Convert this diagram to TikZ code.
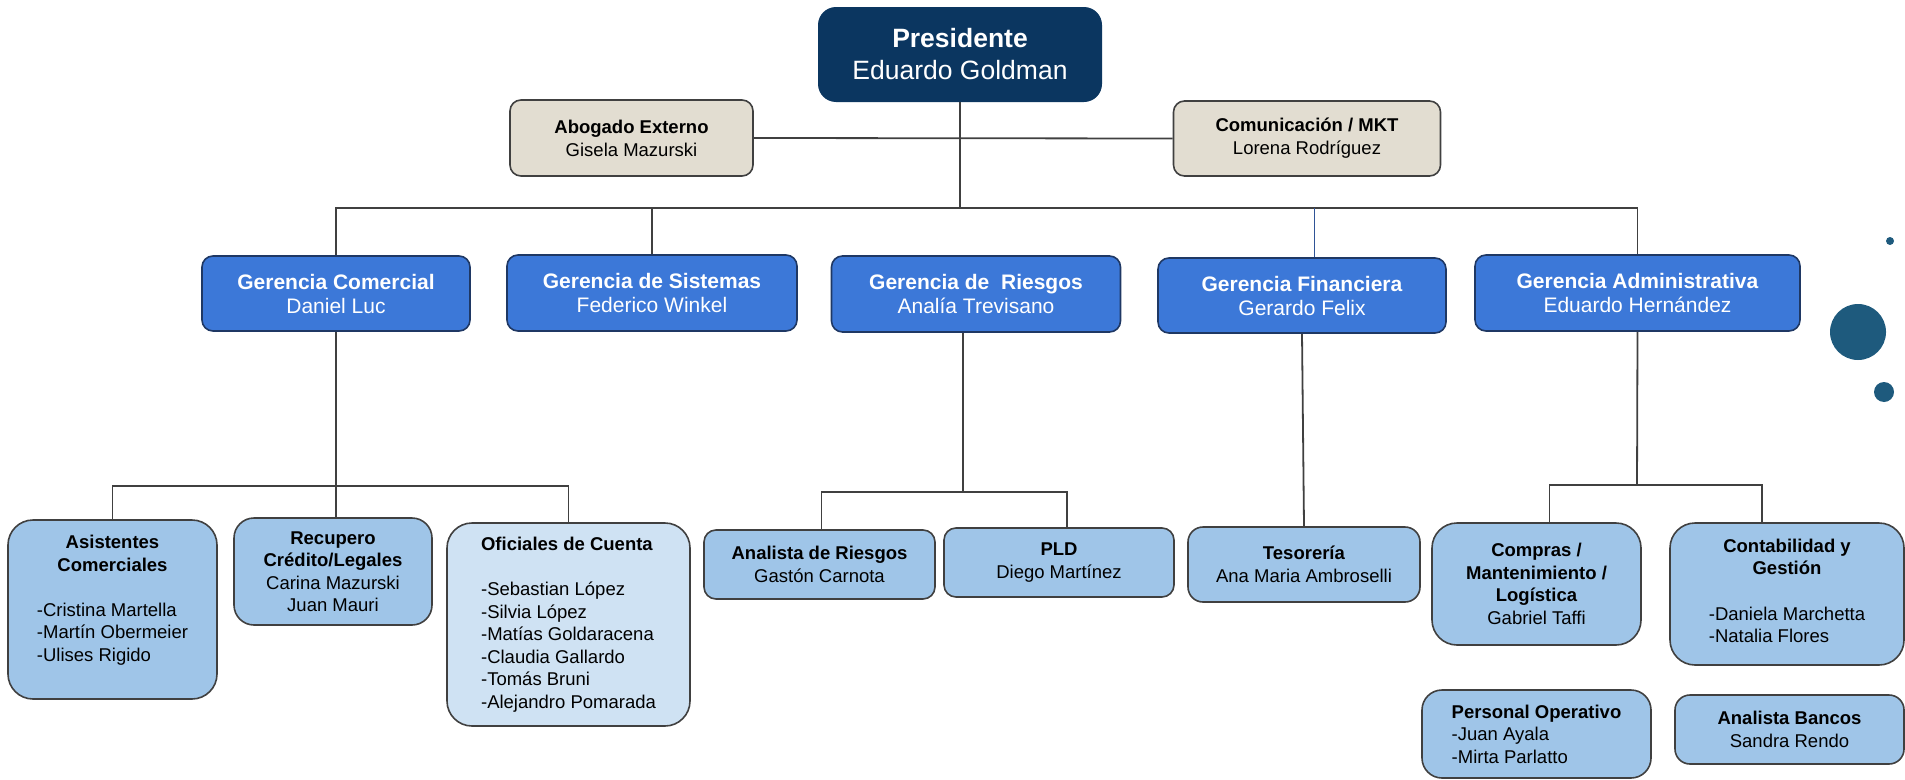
\documentclass[tikz,border=0pt]{standalone}
\usepackage{fontspec}
\setmainfont{Liberation Sans}
\usepackage{tikz}

\definecolor{presblue}{RGB}{11,54,96}
\definecolor{gerblue}{RGB}{60,120,216}
\definecolor{gerline}{RGB}{31,56,100}
\definecolor{lightblue}{RGB}{159,197,232}
\definecolor{paleblue}{RGB}{207,226,243}
\definecolor{beige}{RGB}{226,221,209}
\definecolor{boxline}{RGB}{64,64,64}
\definecolor{linkgray}{RGB}{64,64,64}
\definecolor{linkblue}{RGB}{47,84,150}
\definecolor{dotblue}{RGB}{30,90,125}

\tikzset{
    pres/.style={fill=presblue, text=white, rounded corners=18, align=center, inner sep=0pt,
        font=\fontsize{26.5}{32}\selectfont},
    aux/.style={draw=boxline, line width=1.6pt, fill=beige, rounded corners=11, align=center,
        inner sep=0pt, font=\fontsize{18.5}{23}\selectfont},
    ger/.style={draw=gerline, line width=1.6pt, fill=gerblue, text=white, rounded corners=11,
        align=center, inner sep=0pt, font=\fontsize{21}{24}\selectfont},
    sub/.style={draw=boxline, line width=1.6pt, fill=lightblue, rounded corners=#1,
        align=center, inner sep=0pt, font=\fontsize{18.5}{22.5}\selectfont},
    sub/.default=14,
    link/.style={draw=linkgray, line width=1.8pt},
    dot/.style={circle, fill=dotblue, inner sep=0pt, minimum size=#1}
}

\begin{document}
\begin{tikzpicture}[x=1pt, y=-1pt]
    \useasboundingbox (0,0) rectangle (1905,779);

    \node[pres, minimum width=284, minimum height=95] (pres) at (960,54.5)
        {{\bfseries Presidente}\\Eduardo Goldman};

    \node[aux, minimum width=243, minimum height=76] (abo) at (631.5,138)
        {\textbf{Abogado Externo}\\Gisela Mazurski};
    \node[aux, minimum width=267, minimum height=75] (mkt) at (1307,138.5)
        {\textbf{Comunicación / MKT}\\Lorena Rodríguez};

    \node[ger, minimum width=268, minimum height=75] (gcom) at (336,293.5)
        {\textbf{Gerencia Comercial}\\Daniel Luc};
    \node[ger, minimum width=290, minimum height=76] (gsis) at (652,293)
        {\textbf{Gerencia de Sistemas}\\Federico Winkel};
    \node[ger, minimum width=289, minimum height=76] (grie) at (976,294)
        {\textbf{Gerencia de~ Riesgos}\\Analía Trevisano};
    \node[ger, minimum width=288, minimum height=75] (gfin) at (1302,295.5)
        {\textbf{Gerencia Financiera}\\Gerardo Felix};
    \node[ger, minimum width=325, minimum height=76] (gadm) at (1637.5,293)
        {\textbf{Gerencia Administrativa}\\Eduardo Hernández};

    \node[sub=25, minimum width=209, minimum height=179] (asis) at (112.5,609.5)
        {\textbf{Asistentes}\\\textbf{Comerciales}\\[22.5pt]
        \begin{tabular}[t]{@{}l@{}}-Cristina Martella\\-Martín Obermeier\\-Ulises Rigido\\[16pt]\end{tabular}};
    \node[sub=20, minimum width=198, minimum height=107] (recu) at (333,571.5)
        {\textbf{Recupero}\\\textbf{Crédito/Legales}\\Carina Mazurski\\Juan Mauri};
    \node[sub=25, fill=paleblue, align=left, minimum width=243, minimum height=203] (ofic) at (568.5,624.5)
        {\textbf{Oficiales de Cuenta}\\[22.5pt]-Sebastian López\\-Silvia López\\-Matías Goldaracena\\
        -Claudia Gallardo\\-Tomás Bruni\\-Alejandro Pomarada};

    \node[sub=12, minimum width=231, minimum height=69] (anar) at (819.5,564.5)
        {\textbf{Analista de Riesgos}\\Gastón Carnota};
    \node[sub=12, minimum width=230, minimum height=69] (pld) at (1059,562.5)
        {\textbf{PLD}\\Diego Martínez};

    \node[sub=15, minimum width=232, minimum height=75] (teso) at (1304,564.5)
        {\textbf{Tesorería}\\Ana Maria Ambroselli};

    \node[sub=25, minimum width=209, minimum height=122] (comp) at (1536.5,584)
        {\textbf{Compras /}\\\textbf{Mantenimiento /}\\\textbf{Logística}\\Gabriel Taffi};
    \node[sub=25, minimum width=234, minimum height=142] (cont) at (1787,594)
        {\textbf{Contabilidad y}\\\textbf{Gestión}\\[23pt]
        \begin{tabular}[t]{@{}l@{}}-Daniela Marchetta\\-Natalia Flores\end{tabular}};
    \node[sub=20, align=left, minimum width=229, minimum height=88] (pers) at (1536.5,734)
        {\textbf{Personal Operativo}\\-Juan Ayala\\-Mirta Parlatto};
    \node[sub=15, minimum width=229, minimum height=69] (banc) at (1789.5,729.5)
        {\textbf{Analista Bancos}\\Sandra Rendo};

    \coordinate (busG) at (960,208);
    \coordinate (busC) at (336,486);
    \coordinate (busR) at (963,492);
    \coordinate (busA) at (1637,485);

    \draw[link] (pres.south) -- (busG);
    \draw[link] (abo.east) -- (mkt.west);
    \draw[link] (gcom.north) |- (busG) -| (gadm.north);
    \draw[link] (gsis.north) -- (gsis.north |- busG);
    \draw[draw=linkblue, line width=1pt] ([xshift=12]gfin.north) -- ([xshift=12]gfin.north |- busG);

    \draw[link] (gcom.south) -- (gcom.south |- recu.north);
    \draw[link] (asis.north) |- (busC) -| (ofic.north);

    \draw[link] (busR |- grie.south) -- (busR);
    \draw[link] ([xshift=2]anar.north) |- (busR) -| ([xshift=8]pld.north);

    \draw[link] (gfin.south) -- (teso.north);

    \draw[link] (gadm.south) -- (busA);
    \draw[link] ([xshift=13]comp.north) |- (busA) -| ([xshift=-25]cont.north);

    \node[dot=8] (dotA) at (1890,241) {};
    \node[dot=56] (dotB) at (1858,332) {};
    \node[dot=20] (dotC) at (1884,392) {};
\end{tikzpicture}
\end{document}
